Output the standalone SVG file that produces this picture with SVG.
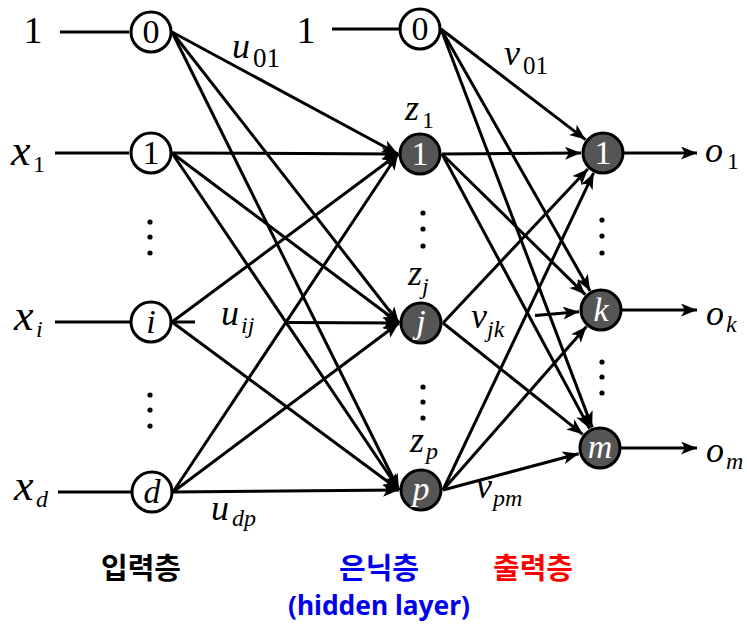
<svg xmlns="http://www.w3.org/2000/svg" width="747" height="625" viewBox="0 0 747 625">
<defs>
<marker id="ah" viewBox="0 0 16 13" refX="16" refY="6.5" markerWidth="16" markerHeight="13" orient="auto" markerUnits="userSpaceOnUse">
<path d="M0,0 L16,6.5 L0,13 L4,6.5 z" fill="#000"/>
</marker>
<style>
.e{stroke:#000;stroke-width:3;fill:none}
.a{stroke:#000;stroke-width:3;fill:none;marker-end:url(#ah)}
.n{stroke:#000;stroke-width:3;fill:#fff}
.dk{stroke:#000;stroke-width:3;fill:#555}
.t{font-family:"Liberation Serif","DejaVu Serif",serif;fill:#000}
.it{font-style:italic}
.nl{font-family:"Liberation Serif","DejaVu Serif",serif;font-size:34px;text-anchor:middle;fill:#000}
.wl{fill:#fff}
.m{font-size:36px}
.xs{font-size:44px}
.s{font-size:24px}
.dot{fill:#000}
.kr{font-family:"Noto Sans CJK KR","Noto Sans",sans-serif;font-weight:bold;font-size:29px;text-anchor:middle}
</style>
</defs>
<g id="connectors">
<line class="e" x1="60" y1="32" x2="129" y2="32"/>
<line class="e" x1="55" y1="153" x2="129" y2="153"/>
<line class="e" x1="55" y1="322" x2="130" y2="322"/>
<line class="e" x1="58" y1="492" x2="131" y2="492"/>
<line class="e" x1="332" y1="29" x2="399" y2="29"/>
<line class="a" x1="172" y1="32" x2="398" y2="154"/>
<line class="a" x1="172" y1="32" x2="399" y2="323"/>
<line class="a" x1="172" y1="32" x2="399" y2="490"/>
<line class="a" x1="172" y1="153" x2="398" y2="154"/>
<line class="a" x1="172" y1="153" x2="399" y2="323"/>
<line class="a" x1="172" y1="153" x2="399" y2="490"/>
<line class="a" x1="172" y1="322" x2="398" y2="154"/>
<line class="e" x1="172" y1="322" x2="195" y2="322"/>
<line class="a" x1="287" y1="322.5" x2="399" y2="323"/>
<line class="a" x1="172" y1="322" x2="399" y2="490"/>
<line class="a" x1="173" y1="492" x2="398" y2="154"/>
<line class="a" x1="173" y1="492" x2="399" y2="323"/>
<line class="a" x1="173" y1="492" x2="399" y2="490"/>
<line class="a" x1="441" y1="29" x2="585.5" y2="139.6"/>
<line class="a" x1="441" y1="29" x2="590.1" y2="290.9"/>
<line class="a" x1="441" y1="29" x2="592.2" y2="427.4"/>
<line class="a" x1="442" y1="154" x2="581" y2="153.1"/>
<line class="a" x1="442" y1="154" x2="585.3" y2="294.6"/>
<line class="a" x1="442" y1="154" x2="589.6" y2="428.6"/>
<line class="a" x1="443" y1="323" x2="587.9" y2="169"/>
<line class="a" x1="535" y1="315.4" x2="579.1" y2="311.8"/>
<line class="a" x1="443" y1="323" x2="582.8" y2="434.3"/>
<line class="a" x1="443" y1="490" x2="593.6" y2="172.9"/>
<line class="a" x1="443" y1="490" x2="586.5" y2="326.5"/>
<line class="a" x1="443" y1="490" x2="578.7" y2="453.7"/>
<line class="a" x1="624" y1="153" x2="697" y2="153"/>
<line class="a" x1="622" y1="310" x2="697" y2="310"/>
<line class="a" x1="621" y1="448" x2="697" y2="448"/>
</g>
<g id="in0"><circle class="n" cx="151" cy="32" r="20"/><text class="nl" x="151" y="43">0</text></g>
<g id="in1"><circle class="n" cx="151" cy="153" r="20"/><text class="nl" x="151" y="164">1</text></g>
<g id="ini"><circle class="n" cx="151" cy="322" r="20"/><text class="nl it" x="151" y="333">i</text></g>
<g id="ind"><circle class="n" cx="152" cy="492" r="20"/><text class="nl it" x="152" y="503">d</text></g>
<g id="h0"><circle class="n" cx="420" cy="29" r="20"/><text class="nl" x="420" y="40">0</text></g>
<g id="h1"><circle class="dk" cx="420" cy="154" r="20"/><text class="nl wl" x="420" y="165">1</text></g>
<g id="hj"><circle class="dk" cx="421" cy="323" r="20"/><text class="nl wl it" x="421" y="333">j</text></g>
<g id="hp"><circle class="dk" cx="421" cy="490" r="20"/><text class="nl wl it" x="421" y="500">p</text></g>
<g id="o1"><circle class="dk" cx="603" cy="153" r="20"/><text class="nl wl" x="603" y="164">1</text></g>
<g id="ok"><circle class="dk" cx="601" cy="310" r="20"/><text class="nl wl it" x="601" y="321">k</text></g>
<g id="om"><circle class="dk" cx="600" cy="448" r="20"/><text class="nl wl it" x="600" y="458">m</text></g>
<g id="labels">
<text class="t" x="33" y="43" font-size="38" text-anchor="middle">1</text>
<text class="t" x="306" y="43" font-size="38" text-anchor="middle">1</text>
<text class="t it xs" x="11" y="165">x</text><text class="t s" x="33" y="172">1</text>
<text class="t it xs" x="14" y="330">x</text><text class="t it s" x="36" y="337">i</text>
<text class="t it xs" x="14" y="500">x</text><text class="t it s" x="36" y="507">d</text>
<text class="t it m" x="232" y="58">u</text><text class="t" x="253" y="67" font-size="27">01</text>
<text class="t it m" x="221" y="325">u</text><text class="t it s" x="241" y="333">ij</text>
<text class="t it m" x="211" y="520">u</text><text class="t it s" x="232" y="526">dp</text>
<text class="t it m" x="405" y="120">z</text><text class="t s" x="422" y="128">1</text>
<text class="t it m" x="408" y="285">z</text><text class="t it s" x="422" y="294">j</text>
<text class="t it m" x="410" y="452">z</text><text class="t it s" x="426" y="459">p</text>
<text class="t it m" x="504" y="65">v</text><text class="t" x="523" y="74" font-size="25">01</text>
<text class="t it m" x="471" y="328">v</text><text class="t it s" x="487" y="337">jk</text>
<text class="t it m" x="476" y="498">v</text><text class="t it s" x="493" y="506">pm</text>
<text class="t it m" x="705" y="162">o</text><text class="t s" x="727" y="169">1</text>
<text class="t it m" x="706" y="325">o</text><text class="t it s" x="726" y="332">k</text>
<text class="t it m" x="706" y="462">o</text><text class="t it s" x="726" y="469">m</text>
</g>
<g id="dots">
<circle class="dot" cx="150" cy="222" r="2.6"/><circle class="dot" cx="150" cy="237" r="2.6"/><circle class="dot" cx="150" cy="253" r="2.6"/>
<circle class="dot" cx="150" cy="395" r="2.6"/><circle class="dot" cx="150" cy="410" r="2.6"/><circle class="dot" cx="150" cy="426" r="2.6"/>
<circle class="dot" cx="423" cy="213" r="2.6"/><circle class="dot" cx="423" cy="229" r="2.6"/><circle class="dot" cx="423" cy="246" r="2.6"/>
<circle class="dot" cx="423" cy="387" r="2.6"/><circle class="dot" cx="423" cy="402" r="2.6"/><circle class="dot" cx="423" cy="418" r="2.6"/>
<circle class="dot" cx="602" cy="220" r="2.6"/><circle class="dot" cx="602" cy="236" r="2.6"/><circle class="dot" cx="602" cy="253" r="2.6"/>
<circle class="dot" cx="602" cy="362" r="2.6"/><circle class="dot" cx="602" cy="377" r="2.6"/><circle class="dot" cx="602" cy="393" r="2.6"/>
</g>
<g id="layer-labels">
<text class="kr" x="141" y="579" fill="#000">입력층</text>
<text class="kr" x="379" y="579" fill="#0000ee">은닉층</text>
<text class="kr" x="533" y="579" fill="#ff0000">출력층</text>
<text x="379" y="615" font-family="'Noto Sans','Liberation Sans',sans-serif" font-weight="bold" font-size="27" text-anchor="middle" fill="#0000ee" textLength="182" lengthAdjust="spacingAndGlyphs">(hidden layer)</text>
</g>
</svg>
